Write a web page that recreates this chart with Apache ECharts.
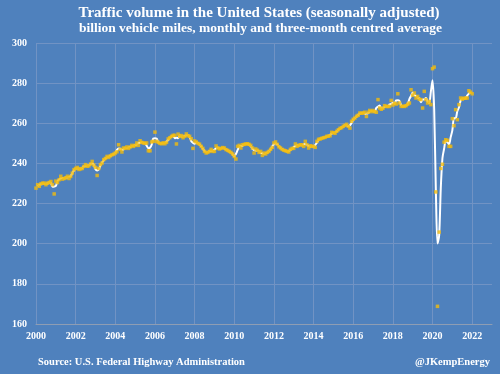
<!DOCTYPE html>
<html>
<head>
<meta charset="utf-8">
<script src="https://cdn.jsdelivr.net/npm/echarts@6/dist/echarts.min.js"></script>
<style>
html,body{margin:0;padding:0;background:#4F81BD;}
#c{width:500px;height:374px;}
</style>
</head>
<body>
<div id="c"></div>
<script>
var startYear = 2000;
// Monthly traffic volume, billion vehicle miles (Jan 2000 .. Jan 2022)
var monthly = [
227.7,229.4,228.6,229.9,230.2,230.2,229.4,230.2,230.5,231,229.4,224.8,
231.2,230.5,231.9,233.6,232.2,232.5,232.8,233.6,232.5,233.5,235.2,236.9,
237.5,238,237,237.3,237.5,238.5,239.4,238.6,238.8,239.7,241,239.2,
238,234,237.5,239.4,240.2,241.9,242.5,243.5,243,243.8,244.3,244.6,
245.2,245.8,249.3,247,245.7,247.7,247.5,248.2,247.5,248.2,249,248.5,
249,250.2,249,251.3,250.5,250.2,250,250.2,246.3,246.3,250.7,251,
255.6,251,250.5,250,249.8,250.3,249.8,250.5,252.2,252.8,253.5,254,
254,249.7,254.6,253.5,253.9,252.8,253.5,254.7,253.8,253.5,252.3,247.5,
251.2,250.7,250,249.6,248.5,247.5,246,245.2,245.5,246,247,246,
246,248.7,247.7,247.2,247.5,247.9,247.7,246.9,246.5,246,245.5,244.7,
243.5,242.2,248.5,249,247.7,249.3,249.5,249.7,249.8,249.5,249,247.7,
245.2,247.2,246.6,245.5,246,244,245.2,244.7,245.5,246,247,248,
250.2,250.7,249.5,248.3,247.7,247,246.6,246.3,246,245.7,247,247.5,
247.5,249.7,248.5,249,249.3,249.3,248.5,251,249.3,247.7,248.8,248.5,
248.5,248,251,252,252.2,252.5,252.8,253,253.5,253.6,253.8,255.5,
255.3,255,256,256.8,257.5,257.8,258.5,259,259.5,258.5,257.6,261,
262,262.6,263.5,264,265.1,265,265.1,265.5,263.4,265.5,266.4,265.8,
266.4,265.8,265.5,271.8,267.6,267,267.5,268.8,268.4,268.4,268.4,271.4,
269.1,270,269.6,274.7,270.1,268.4,268.5,268.4,268.8,269.5,270.1,276.7,
274,275.1,272.6,273.4,272,271.8,267.6,275.9,271.8,270.1,270.9,269.3,
287.2,288,225.8,168.8,205.8,237.5,239.6,250.6,251.8,251.5,248.5,248.5,
262.3,258.8,266.8,261.8,269.3,272.6,272,272.5,272.5,272.6,276.2,275.5,
274.7
];
// Three-month centred average (same months; null where not defined)
var centred3 = [
null,228.6,229.3,229.6,230.1,229.9,229.9,230.0,230.6,230.3,228.4,228.5,
228.8,231.2,232.0,232.6,232.8,232.5,233.0,233.0,233.2,233.7,235.2,236.5,
237.5,237.5,237.4,237.3,237.8,238.5,238.8,238.9,239.0,239.8,240.0,239.4,
237.1,236.5,237.0,239.0,240.5,241.5,242.6,243.0,243.4,243.7,244.2,244.7,
245.2,246.8,247.4,247.3,246.8,247.0,247.8,247.7,248.0,248.2,248.6,248.8,
249.2,249.4,250.2,250.3,250.7,250.2,250.1,248.8,247.6,247.8,249.3,252.4,
252.5,252.4,250.5,250.1,250.0,250.0,250.2,250.8,251.8,252.8,253.4,253.8,
252.6,252.8,252.6,254.0,253.4,253.4,253.7,254.0,254.0,253.2,251.1,250.3,
249.8,250.6,250.1,249.4,248.5,247.3,246.2,245.6,245.6,246.2,246.3,246.3,
246.9,247.5,247.9,247.5,247.5,247.7,247.5,247.0,246.5,246.0,245.4,244.6,
243.5,244.7,246.6,248.4,248.7,248.8,249.5,249.7,249.7,249.4,248.7,247.3,
246.7,246.3,246.4,246.0,245.2,245.1,244.6,245.1,245.4,246.2,247.0,248.4,
249.6,250.1,249.5,248.5,247.7,247.1,246.6,246.3,246.0,246.2,246.7,247.3,
248.2,248.6,249.1,248.9,249.2,249.0,249.6,249.6,249.3,248.6,248.3,248.6,
248.3,249.2,250.3,251.7,252.2,252.5,252.8,253.1,253.4,253.6,254.3,254.9,
255.3,255.4,255.9,256.8,257.4,257.9,258.4,259.0,259.0,258.5,259.0,260.2,
261.9,262.7,263.4,264.2,264.7,265.1,265.2,264.7,264.8,265.1,265.9,266.2,
266.0,265.9,267.7,268.3,268.8,267.4,267.8,268.2,268.5,268.4,269.4,269.6,
270.2,269.6,271.4,271.5,271.1,269.0,268.4,268.6,268.9,269.5,272.1,273.6,
275.3,273.9,273.7,272.7,272.4,270.5,271.8,271.8,272.6,270.9,270.1,275.8,
281.5,267.0,227.5,200.1,204.0,227.6,242.6,247.3,251.3,250.6,249.5,253.1,
256.5,262.6,262.5,266.0,267.9,271.3,272.4,272.3,272.5,273.8,274.8,275.5,
null
];
var xTicks = [2000,2002,2004,2006,2008,2010,2012,2014,2016,2018,2020,2022];
var yTicks = [160,180,200,220,240,260,280,300];

function toPoints(arr){
  var out = [];
  for (var i = 0; i < arr.length; i++) {
    out.push([startYear + i / 12, arr[i]]);
  }
  return out;
}

var chart = echarts.init(document.getElementById('c'), null, {renderer:'canvas'});
var serif = '"Liberation Serif", "DejaVu Serif", serif';
var gridColor = '#7193C4';
function txt(s, x, y, size, align) {
  return {type: 'text', x: x, y: y, silent: true,
    style: {text: s, fill: '#fff', font: 'bold ' + size + 'px ' + serif,
      textAlign: align, textVerticalAlign: 'middle'}};
}
chart.setOption({
  backgroundColor: '#4F81BD',
  animation: false,
  graphic: [
    txt('Traffic volume in the United States (seasonally adjusted)', 259, 13.5, 15, 'center'),
    txt('billion vehicle miles, monthly and three-month centred average', 260.5, 28.5, 13.5, 'center'),
    txt('Source: U.S. Federal Highway Administration', 38, 362, 10.5, 'left'),
    txt('@JKempEnergy', 490, 362, 10.5, 'right')
  ],
  grid: {left: 36, right: 8, top: 43, bottom: 50, containLabel: false},
  xAxis: {
    type: 'value', min: 2000, max: 2023,
    axisLine: {show: true, lineStyle: {color: '#8E9DB3', width: 1}},
    axisTick: {show: false, customValues: xTicks},
    axisLabel: {customValues: xTicks, color: '#fff', fontFamily: serif, fontWeight: 'bold', fontSize: 10, margin: 7,
      formatter: function (v) { return String(Math.round(v)); }},
    splitLine: {show: true, lineStyle: {color: gridColor, width: 1}}
  },
  yAxis: {
    type: 'value', min: 160, max: 300, interval: 20,
    axisLine: {show: false}, axisTick: {show: false},
    axisLabel: {color: '#fff', fontFamily: serif, fontWeight: 'bold', fontSize: 10, margin: 9},
    splitLine: {show: true, lineStyle: {color: gridColor, width: 1}}
  },
  series: [
    {type: 'line', data: toPoints(centred3), smooth: 0.3, showSymbol: false, connectNulls: false,
     lineStyle: {color: '#FFFFFF', width: 2}, z: 2},
    {type: 'scatter', data: toPoints(monthly), symbol: 'rect', symbolSize: 3.5,
     itemStyle: {color: '#F2BC0C'}, z: 3}
  ]
});
</script>
</body>
</html>
